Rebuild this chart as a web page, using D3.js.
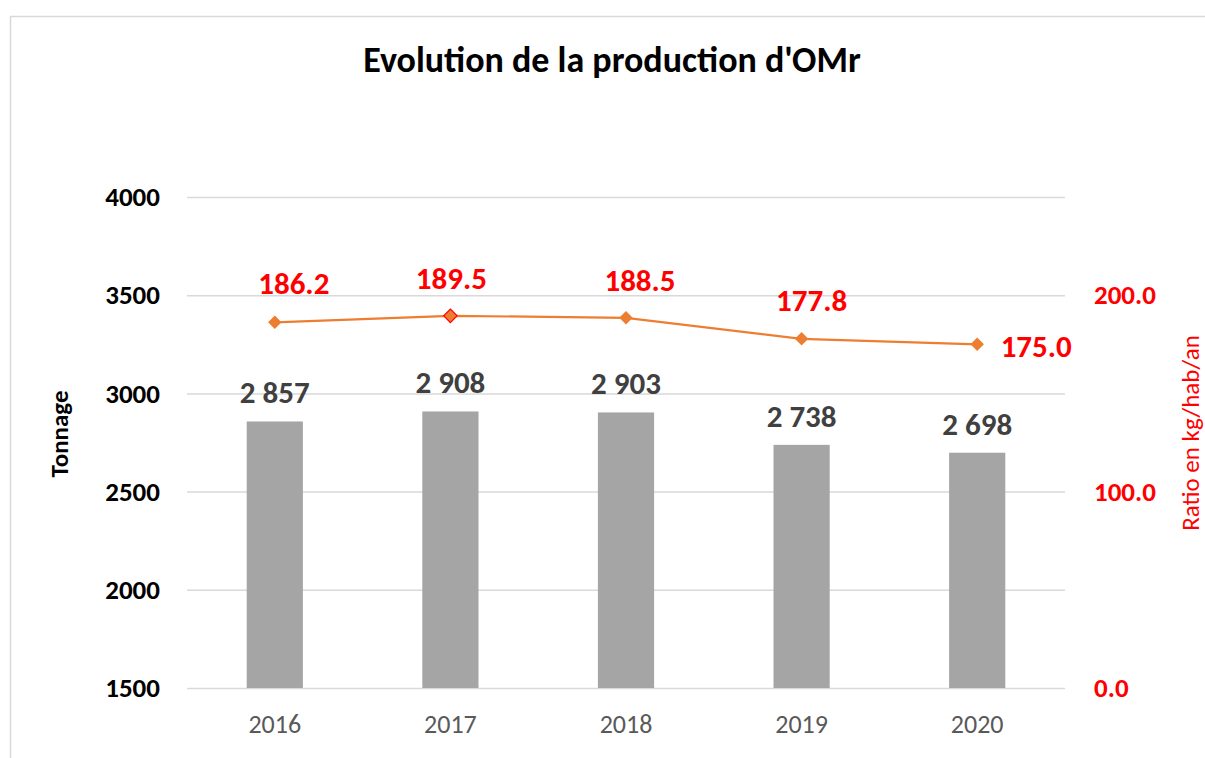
<!DOCTYPE html>
<html><head><meta charset="utf-8">
<script src="https://cdn.jsdelivr.net/npm/d3@7"></script>
<style>body{margin:0;background:#fff}svg{display:block}text{font-family:Carlito,Lato,"Open Sans",sans-serif}</style>
</head><body><svg id="c" width="1205" height="758"></svg>
<script>
const years = ["2016","2017","2018","2019","2020"];
const tonnage = [2857,2908,2903,2738,2698];
const ratio = [186.2,189.5,188.5,177.8,175.0];
const leftTicks = [1500,2000,2500,3000,3500,4000];
const rightTicks = [0,100,200];
// label placement offsets for ratio labels (dx, dy from point)
const ratioLabelDx = [19,1,14,10,59];
const ratioLabelDy = [-39,-38,-38,-39,2];

const FF = "Carlito,Lato,'Open Sans',sans-serif";
const svg = d3.select("#c");
svg.append("rect").attr("x",10.5).attr("y",16.5).attr("width",1200).attr("height",760)
  .attr("fill","#fff").attr("stroke","#d9d9d9").attr("stroke-width",1.5);

const L=187, R=1065, T=197, B=688;
const x = d3.scaleBand().domain(years).range([L,R]).paddingInner(0.68).paddingOuter(0.34);
const y = d3.scaleLinear().domain([1500,4000]).range([B,T]);
const y2 = d3.scaleLinear().domain([0,250]).range([B,T]);

svg.append("text").attr("x",612).attr("y",72).attr("text-anchor","middle")
  .attr("font-size",36).attr("font-weight","bold").attr("fill","#000").text("Evolution de la production d'OMr");

const g = svg.append("g").attr("transform",`translate(${L},0)`)
  .call(d3.axisLeft(y).tickValues(leftTicks).tickSize(-(R-L)).tickFormat(d=>d));
g.select(".domain").remove();
g.selectAll(".tick line").attr("stroke","#d9d9d9").attr("stroke-width",1.5);
g.selectAll(".tick text").attr("x",-27).attr("font-size",27).attr("font-weight","bold").attr("fill","#000")
  .style("font-family",FF);

const g2 = svg.append("g").attr("transform",`translate(${R},0)`)
  .call(d3.axisRight(y2).tickValues(rightTicks).tickSize(0).tickFormat(d3.format(".1f")));
g2.select(".domain").remove();
g2.selectAll(".tick text").attr("x",29).attr("font-size",27).attr("font-weight","bold").attr("fill","#ff0000")
  .style("font-family",FF);

const gx = svg.append("g").attr("transform",`translate(0,${B})`)
  .call(d3.axisBottom(x).tickSize(0).tickPadding(27));
gx.select(".domain").remove();
gx.selectAll(".tick text").attr("font-size",26).attr("fill","#595959").style("font-family",FF);

svg.selectAll("rect.bar").data(tonnage).join("rect").attr("class","bar")
  .attr("x",(d,i)=>x(years[i])).attr("width",x.bandwidth())
  .attr("y",d=>y(d)).attr("height",d=>B-y(d)).attr("fill","#a5a5a5");
const fmt = d=>d3.format(",")(d).replace(",", " ");
svg.selectAll("text.bl").data(tonnage).join("text").attr("class","bl")
  .attr("x",(d,i)=>x(years[i])+x.bandwidth()/2).attr("y",d=>y(d)-18)
  .attr("text-anchor","middle").attr("font-size",31).attr("font-weight","bold").attr("fill","#404040")
  .text(fmt);

const cx = (i)=>x(years[i])+x.bandwidth()/2;
svg.append("path").datum(ratio).attr("fill","none").attr("stroke","#ed7d31").attr("stroke-width",2.2)
  .attr("d",d3.line().x((d,i)=>cx(i)).y(d=>y2(d)));
svg.selectAll("path.m").data(ratio).join("path").attr("class","m")
  .attr("d",d3.symbol(d3.symbolSquare,90))
  .attr("transform",(d,i)=>`translate(${cx(i)},${y2(d)}) rotate(45)`)
  .attr("fill","#ed7d31").attr("stroke",(d,i)=>i===1?"#ff0000":"none").attr("stroke-width",1.2);
svg.selectAll("text.rl").data(ratio).join("text").attr("class","rl")
  .attr("x",(d,i)=>cx(i)+ratioLabelDx[i]).attr("y",(d,i)=>y2(d)+ratioLabelDy[i]+11)
  .attr("text-anchor","middle").attr("font-size",31).attr("font-weight","bold").attr("fill","#ff0000")
  .text(d=>d3.format(".1f")(d));

svg.append("text").attr("transform","translate(68,434) rotate(-90)").attr("text-anchor","middle")
  .attr("font-size",25).attr("font-weight","bold").attr("fill","#000").text("Tonnage");
svg.append("text").attr("transform","translate(1199,433) rotate(-90)").attr("text-anchor","middle")
  .attr("font-size",25).attr("fill","#ff0000").text("Ratio en kg/hab/an");
</script></body></html>
